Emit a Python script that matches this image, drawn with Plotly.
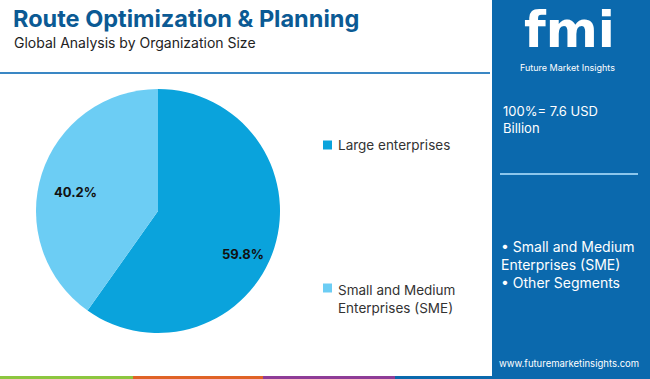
import plotly.graph_objects as go

# Data
segments = ["Large enterprises", "Small and Medium Enterprises (SME)"]
shares = [59.8, 40.2]
colors = ["#0aa3dc", "#6ccdf4"]
legend_labels = ["Large enterprises", "Small and Medium<br>Enterprises (SME)"]
title = "Route Optimization & Planning"
subtitle = "Global Analysis by Organization Size"
total_text = "100%= 7.6 USD<br>Billion"
panel_bullets = "• Small and Medium<br>Enterprises (SME)<br>• Other Segments"
website = "www.futuremarketinsights.com"

W, H = 650, 379
FONT = "Inter, Lato, sans-serif"
PANEL = "#0b69ad"

def px(x):
    return x / W

def py(y):
    return 1 - y / H

fig = go.Figure()
fig.add_trace(go.Pie(
    labels=segments, values=shares, sort=False, direction="clockwise", rotation=0,
    marker=dict(colors=colors, line=dict(width=0)),
    textinfo="none", hoverinfo="label+percent", showlegend=False,
    domain=dict(x=[px(36), px(280)], y=[py(333), py(89)]),
))

shapes = []
annotations = []

# Right panel
shapes.append(dict(type="rect", xref="paper", yref="paper", x0=px(492), x1=1, y0=0, y1=1,
                   fillcolor=PANEL, line=dict(width=0), layer="below"))
# Header underline
shapes.append(dict(type="line", xref="paper", yref="paper", x0=0, x1=px(490), y0=py(73), y1=py(73),
                   line=dict(color="#3a87c4", width=2)))
# Panel divider
shapes.append(dict(type="line", xref="paper", yref="paper", x0=px(500), x1=px(638), y0=py(174), y1=py(174),
                   line=dict(color="#8cc6ec", width=2)))
# Bottom strip
for x0, x1, c in [(0, 133, "#8cc63f"), (133, 263, "#e06326"), (263, 395, "#8e3c97"), (395, 492, PANEL)]:
    shapes.append(dict(type="rect", xref="paper", yref="paper", x0=px(x0), x1=px(x1), y0=0, y1=py(376),
                       fillcolor=c, line=dict(width=0)))

# Title texts
annotations.append(dict(text="<b>" + title + "</b>", x=px(11), y=py(18), xref="paper", yref="paper",
                        xanchor="left", yanchor="middle", showarrow=False,
                        font=dict(family=FONT, size=23.5, color="#0b5a94")))
annotations.append(dict(text=subtitle, x=px(12), y=py(42), xref="paper", yref="paper",
                        xanchor="left", yanchor="middle", showarrow=False,
                        font=dict(family=FONT, size=14, color="#222222")))

# Pie labels
label_pos = [(243, 254), (75, 192)]
for v, (lx, ly) in zip(shares, label_pos):
    annotations.append(dict(text="<b>%.1f%%</b>" % v, x=px(lx), y=py(ly), xref="paper", yref="paper",
                            xanchor="center", yanchor="middle", showarrow=False,
                            font=dict(family=FONT, size=13, color="#111111")))

# Legend
leg_pos = [145, 299]
for lab, c, ly in zip(legend_labels, colors, leg_pos):
    sy = ly if "<br>" not in lab else ly - 11
    shapes.append(dict(type="rect", xref="paper", yref="paper", x0=px(323), x1=px(332),
                       y0=py(sy + 4.5), y1=py(sy - 4.5), fillcolor=c, line=dict(width=0)))
    annotations.append(dict(text=lab, x=px(336), y=py(ly), xref="paper", yref="paper",
                            xanchor="left", yanchor="middle", align="left", showarrow=False,
                            font=dict(family=FONT, size=13.5, color="#333333")))

# Logo
annotations.append(dict(text="<b>fmi</b>", x=px(569), y=1, xref="paper", yref="paper",
                        xanchor="center", yanchor="top", showarrow=False, borderpad=0,
                        font=dict(family="DejaVu Sans, sans-serif", size=50, color="white")))
annotations.append(dict(text="Future Market Insights", x=px(567), y=py(67.5), xref="paper", yref="paper",
                        xanchor="center", yanchor="middle", showarrow=False,
                        font=dict(family=FONT, size=9, color="white")))

# Panel texts
annotations.append(dict(text=total_text, x=px(501), y=py(119), xref="paper", yref="paper",
                        xanchor="left", yanchor="middle", align="left", showarrow=False,
                        font=dict(family=FONT, size=13, color="white")))
annotations.append(dict(text=panel_bullets, x=px(499), y=py(264), xref="paper", yref="paper",
                        xanchor="left", yanchor="middle", align="left", showarrow=False,
                        font=dict(family=FONT, size=14, color="white")))
annotations.append(dict(text=website, x=px(569), y=py(363), xref="paper", yref="paper",
                        xanchor="center", yanchor="middle", showarrow=False,
                        font=dict(family=FONT, size=9.5, color="white")))

fig.update_layout(
    width=W, height=H, margin=dict(l=0, r=0, t=0, b=0),
    paper_bgcolor="white", plot_bgcolor="white",
    shapes=shapes, annotations=annotations, showlegend=False,
)

fig.write_html("out.html", config={"displayModeBar": False},
               post_script="document.body.style.margin='0';")
